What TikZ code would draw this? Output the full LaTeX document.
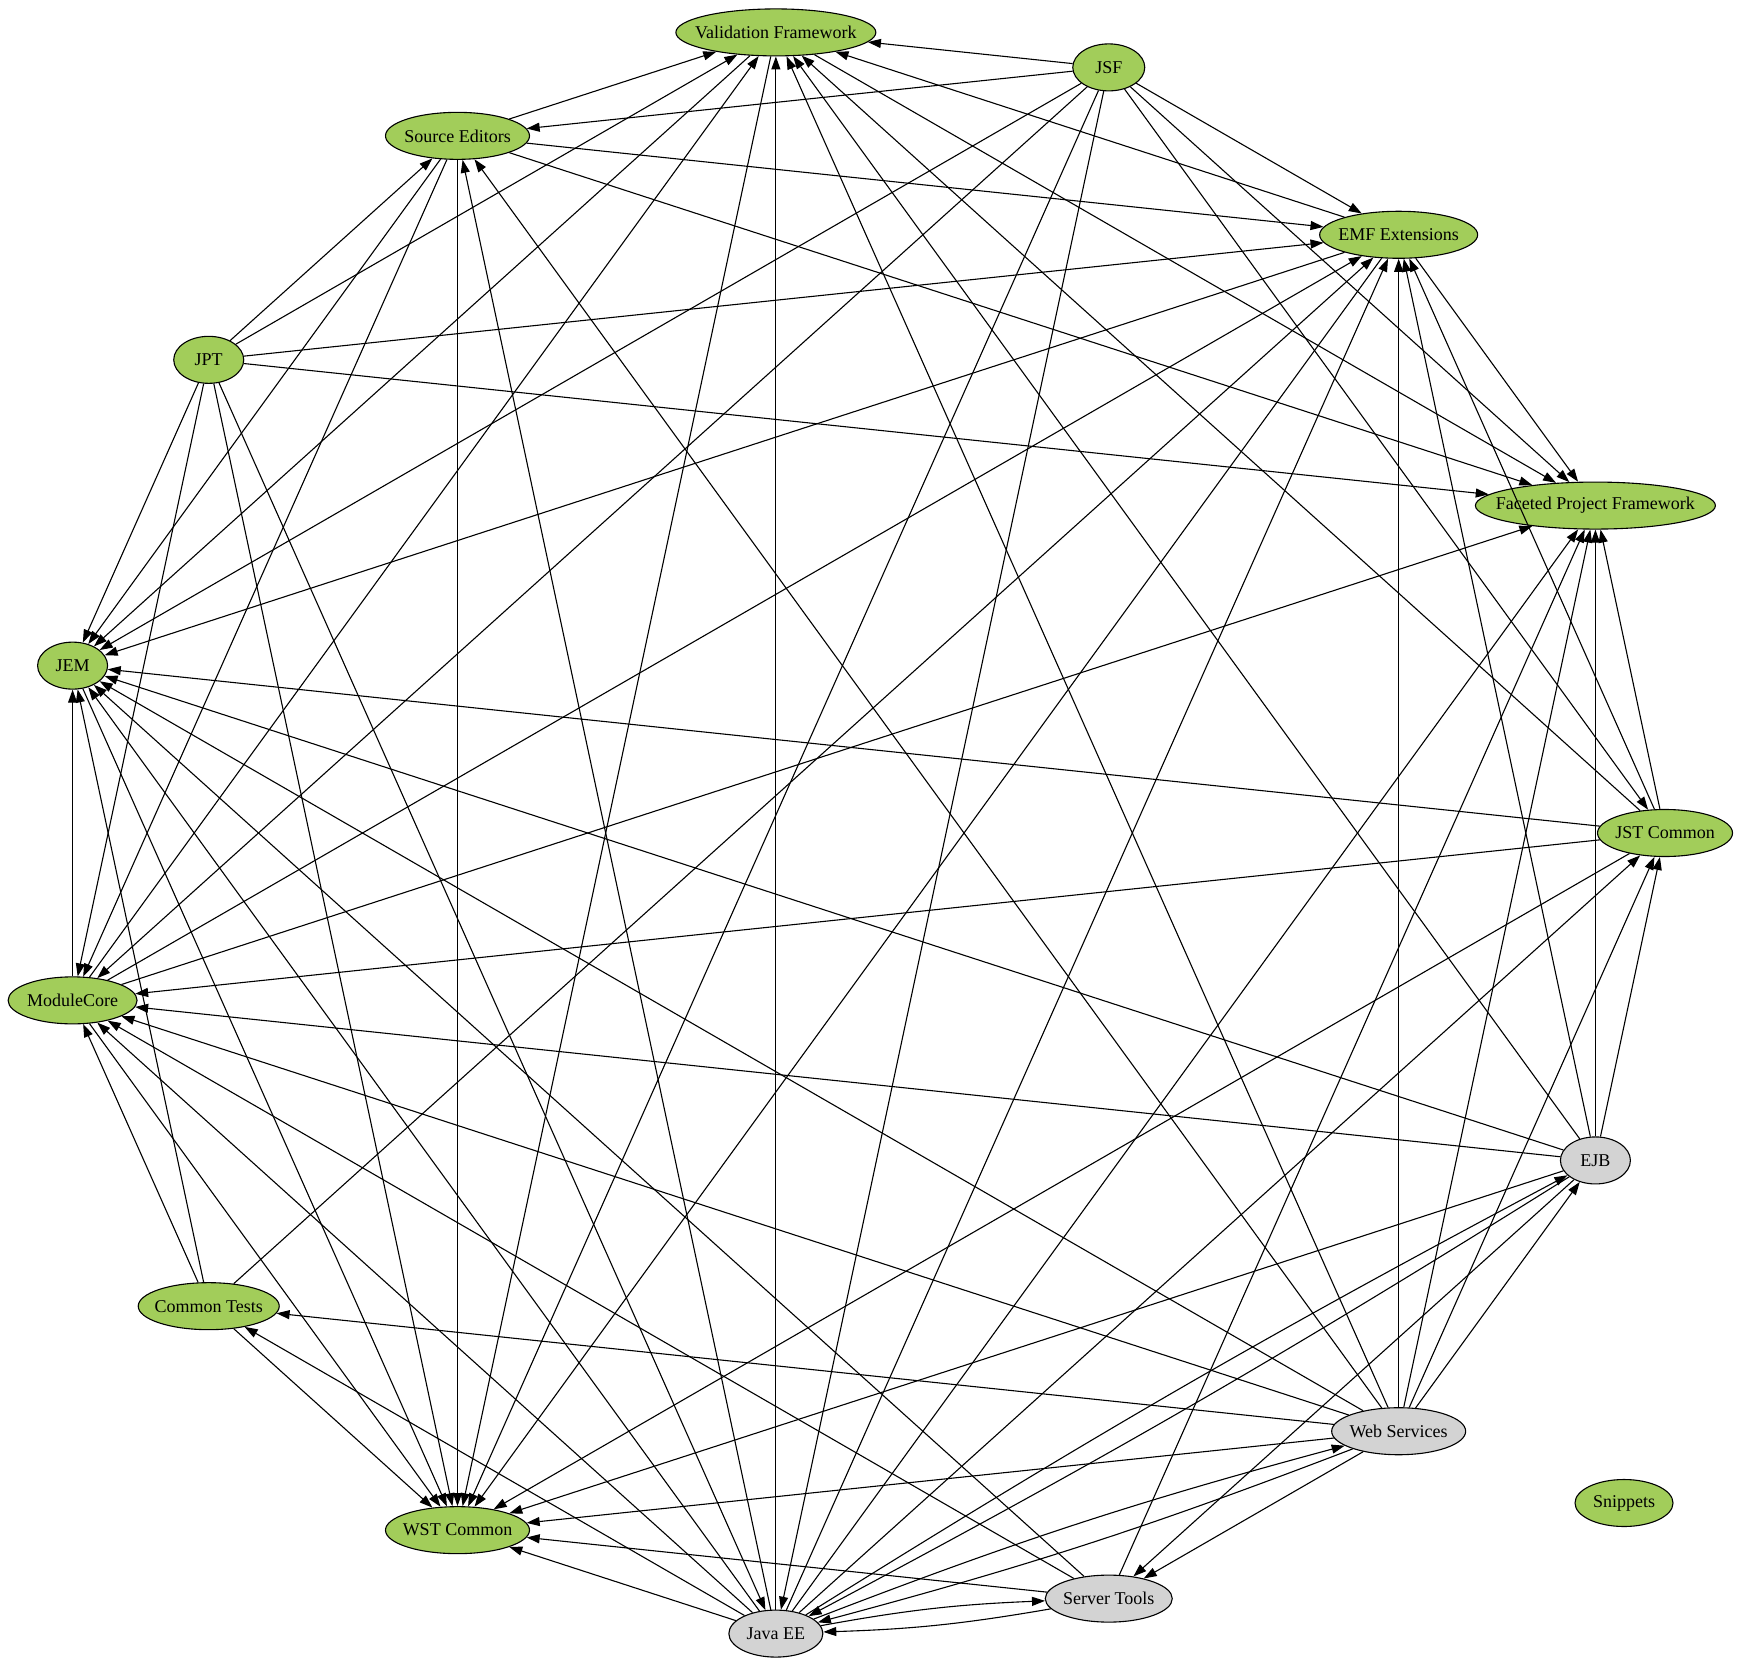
\documentclass[tikz,border=0pt]{standalone}
\usepackage{fontspec}
\setmainfont{Liberation Serif}
\usepackage{tikz}
\usetikzlibrary{shapes.geometric, arrows.meta}
\definecolor{pkggreen}{RGB}{162,205,90}
\definecolor{pkggrey}{RGB}{211,211,211}
\tikzstyle{pkg} = [ellipse, draw=black, line width=1.1pt, fill=pkggreen, minimum height=47pt, inner sep=0pt, font=\fontsize{18}{22}\selectfont, execute at begin node={\hbox to 0pt\bgroup\hss}, execute at end node={\hss\egroup}]
\tikzstyle{greypkg} = [pkg, fill=pkggrey]
\tikzstyle{arrow} = [line width=1.1pt, ->, >={Triangle[length=13pt,width=9pt]}]

\begin{document}
\begin{tikzpicture}[x=1pt, y=-1pt]
\useasboundingbox (0,0) rectangle (1740,1664);
% components on the ring
\begin{scope}[shift={(860,833)}]
\node (jst) [pkg, minimum width=135pt] at (0:805) {JST Common};
\node (ejb) [greypkg, minimum width=70pt] at (24:805) {EJB};
\node (ws) [greypkg, minimum width=134pt] at (48:805) {Web Services};
\node (st) [greypkg, minimum width=127pt] at (72:805) {Server Tools};
\node (jee) [greypkg, minimum width=94pt] at (96:805) {Java EE};
\node (wst) [pkg, minimum width=144pt] at (120:805) {WST Common};
\node (ct) [pkg, minimum width=141pt] at (144:805) {Common Tests};
\node (mc) [pkg, minimum width=129pt] at (168:805) {ModuleCore};
\node (jem) [pkg, minimum width=70pt] at (192:805) {JEM};
\node (jpt) [pkg, minimum width=70pt] at (216:805) {JPT};
\node (se) [pkg, minimum width=144pt] at (240:805) {Source Editors};
\node (vf) [pkg, minimum width=200pt] at (264:805) {Validation Framework};
\node (jsf) [pkg, minimum width=72pt] at (288:805) {JSF};
\node (emf) [pkg, minimum width=158pt] at (312:805) {EMF Extensions};
\node (fpf) [pkg, minimum width=240pt] at (336:805) {Faceted Project Framework};
\end{scope}
\node (snip) [pkg, minimum width=98pt] at (1624,1503) {Snippets};

% JSF
\draw[arrow] (jsf) -- (vf);
\draw[arrow] (jsf) -- (se);
\draw[arrow] (jsf) -- (emf);
\draw[arrow] (jsf) -- (fpf);
\draw[arrow] (jsf) -- (jst);
\draw[arrow] (jsf) -- (jem);
\draw[arrow] (jsf) -- (mc);
\draw[arrow] (jsf) -- (wst);
\draw[arrow] (jsf) -- (jee);
% Source Editors
\draw[arrow] (se) -- (vf);
\draw[arrow] (se) -- (emf);
\draw[arrow] (se) -- (fpf);
\draw[arrow] (se) -- (jem);
\draw[arrow] (se) -- (mc);
\draw[arrow] (se) -- (wst);
% JPT
\draw[arrow] (jpt) -- (se);
\draw[arrow] (jpt) -- (vf);
\draw[arrow] (jpt) -- (emf);
\draw[arrow] (jpt) -- (fpf);
\draw[arrow] (jpt) -- (jem);
\draw[arrow] (jpt) -- (mc);
\draw[arrow] (jpt) -- (wst);
\draw[arrow] (jpt) -- (jee);
% EMF Extensions
\draw[arrow] (emf) -- (vf);
\draw[arrow] (emf) -- (fpf);
\draw[arrow] (emf) -- (jem);
\draw[arrow] (emf) -- (wst);
% ModuleCore
\draw[arrow] (mc) -- (jem);
\draw[arrow] (mc) -- (vf);
\draw[arrow] (mc) -- (emf);
\draw[arrow] (mc) -- (fpf);
\draw[arrow] (mc) -- (wst);
% Common Tests
\draw[arrow] (ct) -- (jem);
\draw[arrow] (ct) -- (mc);
\draw[arrow] (ct) -- (emf);
\draw[arrow] (ct) -- (wst);
% JEM, Validation Framework
\draw[arrow] (jem) -- (wst);
\draw[arrow] (vf) -- (wst);
\draw[arrow] (vf) -- (jem);
\draw[arrow] (vf) -- (fpf);
% JST Common
\draw[arrow] (jst) -- (wst);
\draw[arrow] (jst) -- (mc);
\draw[arrow] (jst) -- (jem);
\draw[arrow] (jst) -- (vf);
\draw[arrow] (jst) -- (emf);
\draw[arrow] (jst) -- (fpf);
% EJB
\draw[arrow] (ejb) -- (mc);
\draw[arrow] (ejb) -- (jem);
\draw[arrow] (ejb) -- (vf);
\draw[arrow] (ejb) -- (emf);
\draw[arrow] (ejb) -- (fpf);
\draw[arrow] (ejb) -- (jst);
\draw[arrow] (ejb) -- (wst);
\draw[arrow] (ejb) -- (st);
\draw[arrow] (ejb) to[bend left=2] (jee);
% Web Services
\draw[arrow] (ws) -- (st);
\draw[arrow] (ws) to[bend left=3] (jee);
\draw[arrow] (ws) -- (wst);
\draw[arrow] (ws) -- (ct);
\draw[arrow] (ws) -- (mc);
\draw[arrow] (ws) -- (jem);
\draw[arrow] (ws) -- (se);
\draw[arrow] (ws) -- (vf);
\draw[arrow] (ws) -- (emf);
\draw[arrow] (ws) -- (fpf);
\draw[arrow] (ws) -- (jst);
\draw[arrow] (ws) -- (ejb);
% Server Tools
\draw[arrow] (st) -- (wst);
\draw[arrow] (st) to[bend left=4] (jee);
\draw[arrow] (st) -- (fpf);
\draw[arrow] (st) -- (jem);
\draw[arrow] (st) -- (mc);
% Java EE
\draw[arrow] (jee) -- (wst);
\draw[arrow] (jee) -- (ct);
\draw[arrow] (jee) -- (mc);
\draw[arrow] (jee) -- (jem);
\draw[arrow] (jee) -- (se);
\draw[arrow] (jee) -- (vf);
\draw[arrow] (jee) -- (emf);
\draw[arrow] (jee) -- (fpf);
\draw[arrow] (jee) -- (jst);
\draw[arrow] (jee) to[bend left=2] (ejb);
\draw[arrow] (jee) to[bend left=3] (ws);
\draw[arrow] (jee) to[bend left=4] (st);
\end{tikzpicture}
\end{document}
